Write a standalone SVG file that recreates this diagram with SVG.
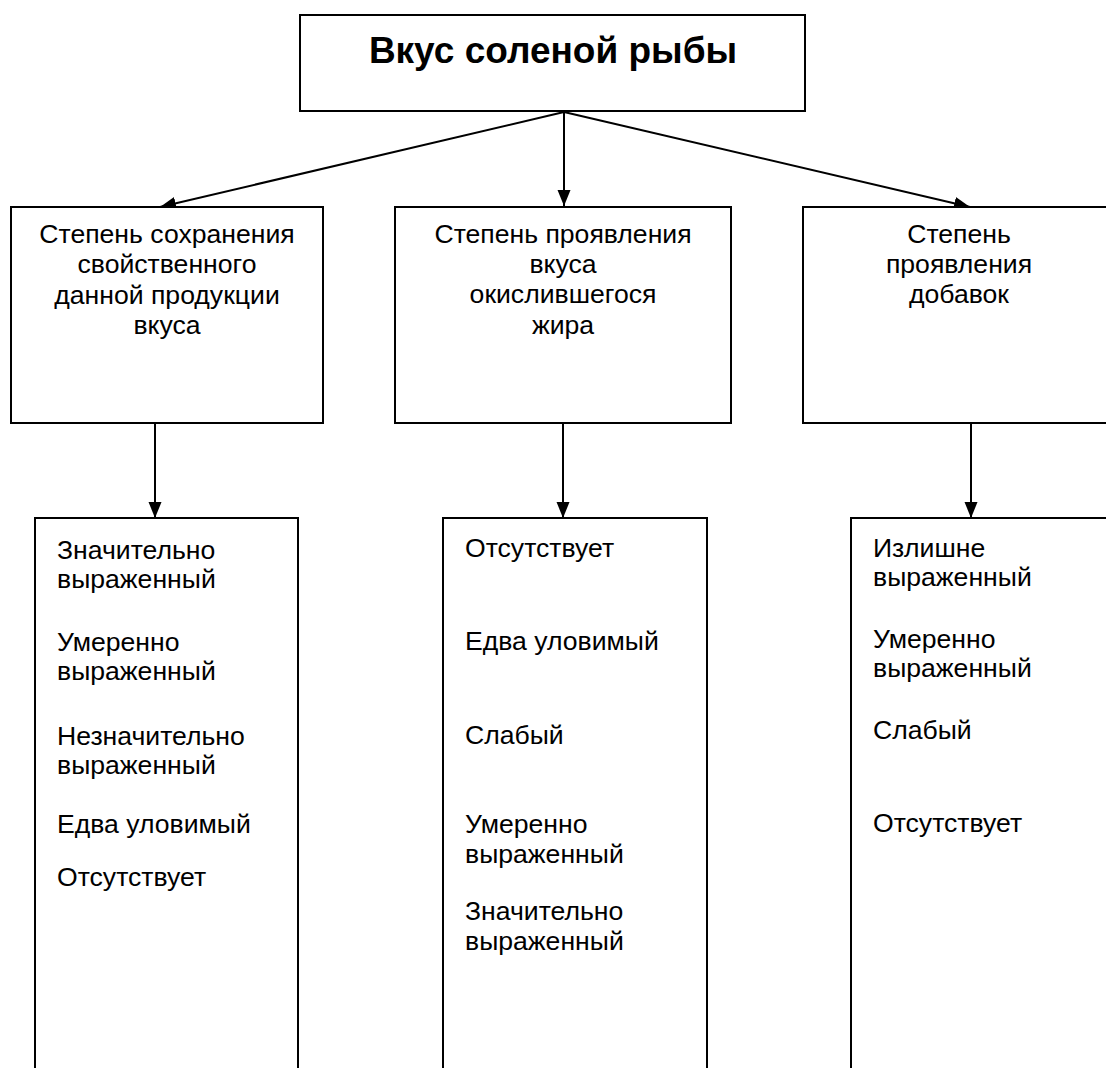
<svg xmlns="http://www.w3.org/2000/svg" width="1106" height="1068" viewBox="0 0 1106 1068">
<style>
.box{fill:#fff;stroke:#000;stroke-width:2}
.t{font-family:"Liberation Sans",Arial,sans-serif;font-size:26.6px;fill:#000}
.c{text-anchor:middle}
.title{font-family:"Liberation Sans",Arial,sans-serif;font-size:37px;font-weight:bold;text-anchor:middle;fill:#000}
.ln{stroke:#000;stroke-width:2;fill:none;marker-end:url(#ah)}
</style>
<defs>
<marker id="ah" markerUnits="userSpaceOnUse" markerWidth="16" markerHeight="16" viewBox="0 0 16 16" refX="16" refY="8" orient="auto">
<path d="M0,1.5 L16,8 L0,14.5 Z" fill="#000"/>
</marker>
</defs>
<rect width="1106" height="1068" fill="#fff"/>
<g id="connectors">
<line class="ln" x1="564" y1="112" x2="160" y2="207"/>
<line class="ln" x1="564" y1="112" x2="564" y2="206"/>
<line class="ln" x1="564" y1="112" x2="970" y2="207"/>
<line class="ln" x1="155" y1="423" x2="155" y2="518"/>
<line class="ln" x1="563" y1="423" x2="563" y2="518"/>
<line class="ln" x1="971" y1="423" x2="971" y2="518"/>
</g>
<g id="root">
<rect class="box" x="300" y="15" width="505" height="96"/>
<text class="title" x="553" y="63">Вкус соленой рыбы</text>
</g>
<g id="crit1">
<rect class="box" x="11" y="207" width="312" height="216"/>
<text class="t c" x="167" y="243">Степень сохранения</text>
<text class="t c" x="167" y="273">свойственного</text>
<text class="t c" x="167" y="304">данной продукции</text>
<text class="t c" x="167" y="334">вкуса</text>
</g>
<g id="crit2">
<rect class="box" x="395" y="207" width="336" height="216"/>
<text class="t c" x="563" y="243">Степень проявления</text>
<text class="t c" x="563" y="273">вкуса</text>
<text class="t c" x="563" y="303">окислившегося</text>
<text class="t c" x="563" y="334">жира</text>
</g>
<g id="crit3">
<rect class="box" x="803" y="207" width="312" height="216"/>
<text class="t c" x="959" y="243">Степень</text>
<text class="t c" x="959" y="273">проявления</text>
<text class="t c" x="959" y="303">добавок</text>
</g>
<g id="levels1">
<rect class="box" x="35" y="518" width="263" height="560"/>
<text class="t" x="57" y="559">Значительно</text>
<text class="t" x="57" y="588">выраженный</text>
<text class="t" x="57" y="651">Умеренно</text>
<text class="t" x="57" y="680">выраженный</text>
<text class="t" x="57" y="745">Незначительно</text>
<text class="t" x="57" y="774">выраженный</text>
<text class="t" x="57" y="833">Едва уловимый</text>
<text class="t" x="57" y="886">Отсутствует</text>
</g>
<g id="levels2">
<rect class="box" x="443" y="518" width="264" height="560"/>
<text class="t" x="465" y="557">Отсутствует</text>
<text class="t" x="465" y="650">Едва уловимый</text>
<text class="t" x="465" y="744">Слабый</text>
<text class="t" x="465" y="833">Умеренно</text>
<text class="t" x="465" y="863">выраженный</text>
<text class="t" x="465" y="920">Значительно</text>
<text class="t" x="465" y="950">выраженный</text>
</g>
<g id="levels3">
<rect class="box" x="851" y="518" width="264" height="560"/>
<text class="t" x="873" y="557">Излишне</text>
<text class="t" x="873" y="586">выраженный</text>
<text class="t" x="873" y="648">Умеренно</text>
<text class="t" x="873" y="677">выраженный</text>
<text class="t" x="873" y="739">Слабый</text>
<text class="t" x="873" y="832">Отсутствует</text>
</g>
</svg>
